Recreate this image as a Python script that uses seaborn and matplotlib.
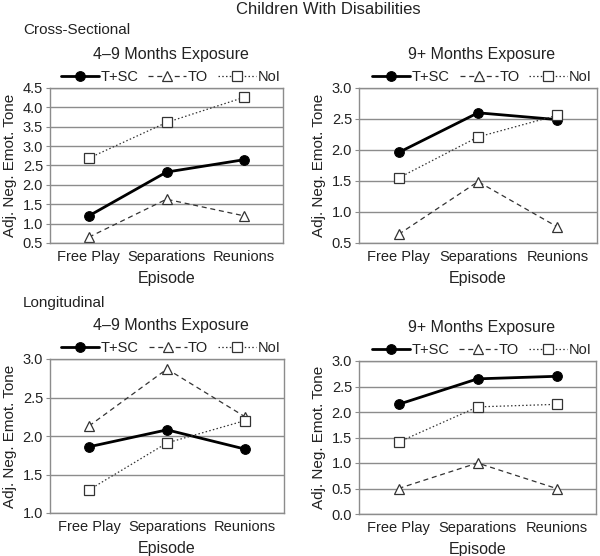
import matplotlib
matplotlib.use("Agg")
import matplotlib.pyplot as plt
import seaborn as sns
import pandas as pd
import numpy as np

sns.set_theme(style="white")
plt.rcParams['font.family'] = ['Liberation Sans', 'DejaVu Sans']

episodes = ["Free Play", "Separations", "Reunions"]
series_names = ["T+SC", "TO", "NoI"]

# Cross-sectional, 4-9 months
cs49_tsc = [1.20, 2.33, 2.65]
cs49_to = [0.65, 1.63, 1.20]
cs49_noi = [2.69, 3.61, 4.26]
# Cross-sectional, 9+ months
cs9_tsc = [1.96, 2.60, 2.49]
cs9_to = [0.64, 1.49, 0.76]
cs9_noi = [1.55, 2.21, 2.56]
# Longitudinal, 4-9 months
lg49_tsc = [1.86, 2.08, 1.83]
lg49_to = [2.13, 2.87, 2.25]
lg49_noi = [1.30, 1.91, 2.20]
# Longitudinal, 9+ months
lg9_tsc = [2.15, 2.65, 2.70]
lg9_to = [0.50, 1.00, 0.50]
lg9_noi = [1.41, 2.10, 2.15]

panels = [
    dict(title="4\u20139 Months Exposure", data=[cs49_tsc, cs49_to, cs49_noi],
         ylim=(0.5, 4.5), step=0.5, rect=(50, 88, 233, 155)),
    dict(title="9+ Months Exposure", data=[cs9_tsc, cs9_to, cs9_noi],
         ylim=(0.5, 3.0), step=0.5, rect=(359, 88, 238, 155)),
    dict(title="4\u20139 Months Exposure", data=[lg49_tsc, lg49_to, lg49_noi],
         ylim=(1.0, 3.0), step=0.5, rect=(50, 359, 234, 154)),
    dict(title="9+ Months Exposure", data=[lg9_tsc, lg9_to, lg9_noi],
         ylim=(0.0, 3.0), step=0.5, rect=(359, 361, 237, 153)),
]

W, H = 600, 556
fig = plt.figure(figsize=(W / 100, H / 100), dpi=100)
fig.patch.set_facecolor("white")

styles = {
    "T+SC": dict(color="black", lw=2.0, linestyle="-", marker="o", ms=7,
                 mfc="black", mec="black"),
    "TO": dict(color="#333333", lw=0.9, linestyle=(0, (4, 3)), marker="^", ms=7,
               mfc="white", mec="#333333", mew=0.9),
    "NoI": dict(color="#333333", lw=0.9, linestyle=(0, (1.2, 1.8)), marker="s", ms=7.5,
                mfc="white", mec="#333333", mew=0.9),
}

for p in panels:
    x0, y0, w, h = p["rect"]
    ax = fig.add_axes([x0 / W, 1 - (y0 + h) / H, w / W, h / H])
    for name, vals in zip(series_names, p["data"]):
        df = pd.DataFrame({"Episode": episodes, "val": vals})
        sns.lineplot(data=df, x="Episode", y="val", ax=ax, label=name,
                     sort=False, **styles[name])
    lo, hi = p["ylim"]
    ax.set_xlim(-0.5, 2.5)
    ax.set_ylim(lo, hi)
    ticks = np.arange(lo, hi + 1e-9, p["step"])
    ax.set_yticks(ticks)
    ax.set_yticklabels([f"{t:.1f}" for t in ticks])
    ax.yaxis.grid(True, color="#8c8c8c", lw=1.0)
    ax.set_axisbelow(True)
    for s in ax.spines.values():
        s.set_color("#8c8c8c")
        s.set_linewidth(1.0)
    ax.tick_params(axis="y", left=True, length=3, width=0.8, color="#8c8c8c",
                   labelsize=10.5, pad=2, labelcolor="#222222")
    ax.tick_params(axis="x", bottom=False, length=0, labelsize=10.5, pad=5,
                   labelcolor="#222222")
    ax.set_xlabel("Episode", fontsize=11.5, labelpad=5, color="#222222")
    ax.set_ylabel("Adj. Neg. Emot. Tone", fontsize=11, labelpad=4, color="#222222")
    xc = 0.5 + 4 / w
    ax.set_title(p["title"], fontsize=11.5, pad=21, color="#222222", x=xc)
    leg = ax.legend(loc="lower center", bbox_to_anchor=(xc, 1.008), ncol=3,
                    frameon=False, fontsize=10.5, handlelength=2.6,
                    handletextpad=0.1, columnspacing=0.7, borderaxespad=0.1,
                    borderpad=0.1)
    for t in leg.get_texts():
        t.set_color("#222222")

fig.text(328 / W, 1 - 9 / H, "Children With Disabilities", ha="center", va="center",
         fontsize=12, color="#222222")
fig.text(23 / W, 1 - 30 / H, "Cross-Sectional", ha="left", va="center",
         fontsize=11, color="#222222")
fig.text(23 / W, 1 - 303 / H, "Longitudinal", ha="left", va="center",
         fontsize=11, color="#222222")

fig.savefig("out.png", dpi=100, facecolor="white")
